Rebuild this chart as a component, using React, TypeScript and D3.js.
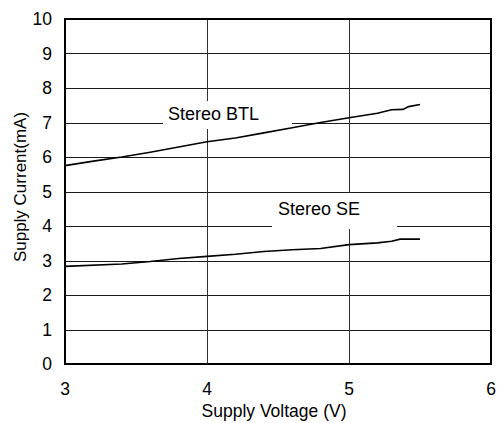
import React from "react";
import * as d3 from "d3";

const btlVoltage = [3.0, 3.2, 3.4, 3.6, 3.8, 4.0, 4.2, 4.4, 4.6, 4.8, 5.0, 5.2, 5.3, 5.38, 5.42, 5.5];
const btlCurrent = [5.75, 5.88, 6.0, 6.14, 6.29, 6.44, 6.55, 6.7, 6.85, 7.0, 7.14, 7.27, 7.37, 7.38, 7.46, 7.52];
const seVoltage = [3.0, 3.4, 3.6, 3.8, 4.0, 4.2, 4.4, 4.6, 4.8, 5.0, 5.2, 5.3, 5.36, 5.5];
const seCurrent = [2.83, 2.9, 2.97, 3.06, 3.12, 3.18, 3.26, 3.31, 3.35, 3.46, 3.51, 3.56, 3.62, 3.62];
const xTicks = [3, 4, 5, 6];
const yTicks = [0, 1, 2, 3, 4, 5, 6, 7, 8, 9, 10];

export default function App() {
  const W = 498, H = 423;
  const L = 65, R = 491, T = 19, B = 364;
  const x = d3.scaleLinear().domain([3, 6]).range([L, R]);
  const y = d3.scaleLinear().domain([0, 10]).range([B, T]);
  const line = d3.line<number>().x((d) => d[0]).y((d) => d[1]);
  const btl = line(btlVoltage.map((v, i) => [x(v), y(btlCurrent[i])]) as any);
  const se = line(seVoltage.map((v, i) => [x(v), y(seCurrent[i])]) as any);
  const font = "Liberation Sans, Arial, sans-serif";
  return (
    <svg width={W} height={H} style={{ position: "absolute", left: 0, top: 0 }} fontFamily={font}>
      <rect x={0} y={0} width={W} height={H} fill="#fff" />
      {yTicks.slice(1, -1).map((t) => (
        <line key={"h" + t} x1={L} x2={R} y1={Math.round(y(t)) + 0.5} y2={Math.round(y(t)) + 0.5} stroke="#1a1a1a" strokeWidth={1} />
      ))}
      {xTicks.slice(1, -1).map((t) => (
        <line key={"v" + t} x1={Math.round(x(t)) + 0.5} x2={Math.round(x(t)) + 0.5} y1={T} y2={B} stroke="#333" strokeWidth={1} />
      ))}
      <rect x={163} y={101} width={129} height={28} fill="#fff" />
      <rect x={272} y={193} width={125} height={36} fill="#fff" />
      <text x={168} y={120} fontSize={18}>Stereo BTL</text>
      <text x={278} y={215} fontSize={18}>Stereo SE</text>
      <path d={btl!} fill="none" stroke="#000" strokeWidth={1.6} />
      <path d={se!} fill="none" stroke="#000" strokeWidth={1.6} />
      <rect x={L} y={T} width={R - L} height={B - T} fill="none" stroke="#000" strokeWidth={2} />
      {yTicks.map((t) => (
        <text key={"yt" + t} x={52} y={y(t)} dy="0.36em" textAnchor="end" fontSize={17.5}>{t}</text>
      ))}
      {xTicks.map((t) => (
        <text key={"xt" + t} x={x(t)} y={395} textAnchor="middle" fontSize={17.5}>{t}</text>
      ))}
      <text x={274} y={417} textAnchor="middle" fontSize={17.5}>Supply Voltage (V)</text>
      <text transform={`translate(26,187) rotate(-90)`} textAnchor="middle" fontSize={17}>Supply Current(mA)</text>
    </svg>
  );
}
